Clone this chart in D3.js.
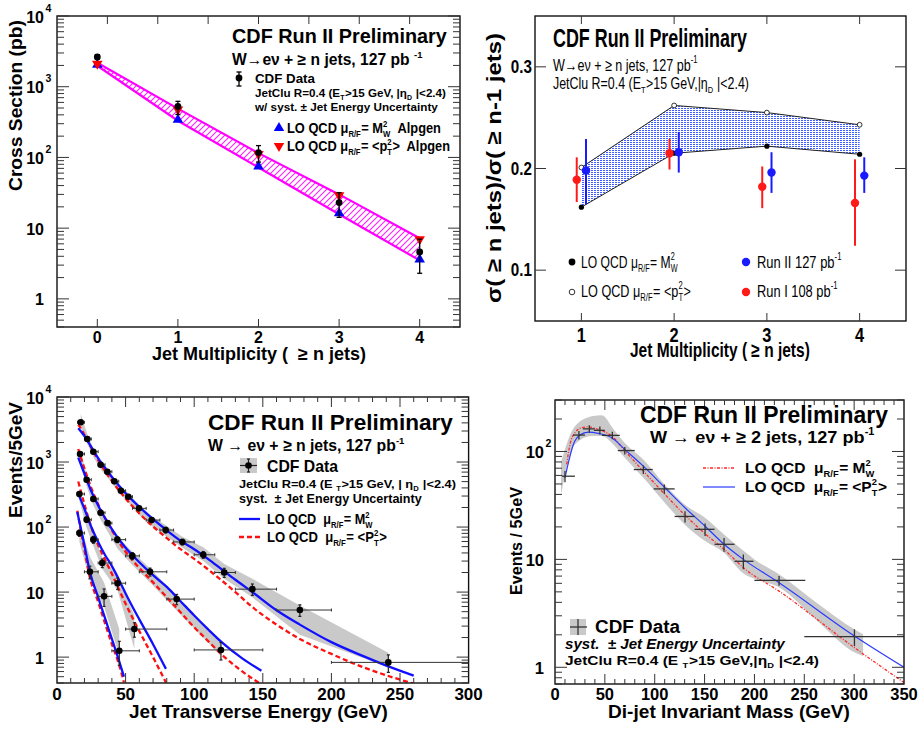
<!DOCTYPE html>
<html><head><meta charset="utf-8">
<script src="https://cdn.jsdelivr.net/npm/d3@7"></script>
<style>
html,body{margin:0;padding:0;background:#fff;}
svg text{white-space:pre;}
</style></head><body>
<svg id="c" width="919" height="729" xmlns="http://www.w3.org/2000/svg"></svg>
<script>
// ===================== DATA =====================
// Panel 1: inclusive cross sections vs jet multiplicity
const p1Mult = [0, 1, 2, 3, 4];
const p1Data = [2630, 525, 117, 23, 4.6];
const p1DataLo = [2450, 404, 86, 14.2, 2.3];
const p1DataHi = [2820, 621, 147, 31.8, 7.0];
const p1LoMW = [1980, 330, 72, 15.7, 3.5];
const p1LoPT = [2180, 490, 115, 30, 7.2];
const p1XTicks = [0, 1, 2, 3, 4];
const p1YTickLabels = ['1', '10', '10^2', '10^3', '10^4'];

// Panel 2: ratios sigma(>=n)/sigma(>=n-1)
const p2Mult = [1, 2, 3, 4];
const p2LoMW = [0.162, 0.215, 0.222, 0.214];
const p2LoPT = [0.201, 0.262, 0.255, 0.243];
const p2Run2 = [0.198, 0.216, 0.196, 0.193];
const p2Run2Lo = [0.165, 0.196, 0.176, 0.176];
const p2Run2Hi = [0.229, 0.236, 0.216, 0.211];
const p2Run1 = [0.189, 0.215, 0.182, 0.166];
const p2Run1Lo = [0.167, 0.199, 0.161, 0.124];
const p2Run1Hi = [0.211, 0.229, 0.202, 0.209];
const p2XTicks = [1, 2, 3, 4];
const p2YTicks = [0.1, 0.2, 0.3];

// Panel 3: jet ET spectra, >=1..>=4 jets
const p3J1X = [17.3, 22.1, 26.5, 31.8, 36.7, 41.8, 46.6, 52, 59.8, 69, 79.2, 91.4, 106.6, 121.9, 142.4, 177, 241.5];
const p3J1Y = [4080, 2260, 1440, 910, 710, 505, 362, 293, 194, 128, 90, 59, 37.5, 20, 11.1, 5.3, 0.83];
const p3J1Err = [0.02, 0.02, 0.03, 0.03, 0.04, 0.04, 0.05, 0.06, 0.06, 0.08, 0.1, 0.1, 0.12, 0.16, 0.2, 0.2, 0.3];
const p3J1XLo = [15, 20, 25, 30, 35, 40, 45, 50, 55, 65, 75, 85, 100, 115, 130, 160, 200];
const p3J1XHi = [20, 25, 30, 35, 40, 45, 50, 55, 65, 75, 85, 100, 115, 130, 160, 200, 300];
const p3J1BandHi = [5500, 2700, 1650, 1040, 810, 570, 415, 330, 220, 148, 107, 71, 49, 27, 16, 6.2, 1.17];
const p3J1BandLo = [3400, 1900, 1200, 770, 590, 415, 310, 240, 155, 104, 73, 48, 30, 16, 8.3, 2.2, 0.69];

const p3J2X = [16.8, 21.6, 26.5, 31.8, 36.9, 44, 54.9, 67.8, 87.2, 119.5];
const p3J2Y = [1330, 535, 270, 166, 115, 64, 36, 20.5, 7.8, 1.29];
const p3J2Err = [0.03, 0.04, 0.06, 0.07, 0.08, 0.1, 0.12, 0.14, 0.18, 0.3];
const p3J2XLo = [15, 20, 25, 30, 35, 40, 50, 60, 80, 100];
const p3J2XHi = [20, 25, 30, 35, 40, 50, 60, 80, 100, 150];
const p3J2BandHi = [1590, 650, 310, 190, 130, 71, 42, 23, 8.9, 1.68];
const p3J2BandLo = [1050, 420, 215, 130, 85, 47, 26, 14, 5.2, 1.05];

const p3J3X = [16.3, 21.6, 26.5, 33, 44.2, 56.4];
const p3J3Y = [322, 130, 64, 28, 13.7, 2.7];
const p3J3Err = [0.06, 0.09, 0.12, 0.15, 0.2, 0.25];
const p3J3XLo = [15, 20, 25, 30, 40, 50];
const p3J3XHi = [20, 25, 30, 40, 50, 80];
const p3J3BandHi = [385, 160, 78, 34, 17.8, 4.3];
const p3J3BandLo = [254, 98, 51, 22.6, 10.5, 1.33];

const p3J4X = [16.3, 24, 34.3, 45.4];
const p3J4Y = [81, 20.5, 8.6, 1.25];
const p3J4Err = [0.11, 0.22, 0.3, 0.4];
const p3J4XLo = [15, 20, 30, 40];
const p3J4XHi = [20, 30, 40, 60];
const p3J4BandHi = [120, 35, 14, 2.7];
const p3J4BandLo = [60, 15, 6, 1.05];

// LO QCD curves (mu = M_W^2 : blue solid, mu = <PT^2> : red dashed)
const p3C1X = [15.5, 20, 25, 30, 35, 40, 50, 60, 70, 80, 90, 100, 110, 120, 130, 142.4, 160, 177, 200, 225, 241.5, 260];
const p3C1MW = [3311, 2512, 1698, 1148, 813, 589, 331, 204, 132, 89, 61.7, 45.7, 32.4, 22.4, 15.5, 10, 5.25, 3.16, 1.7, 1.0, 0.72, 0.52];
const p3C1PT = [3802, 2630, 1660, 1072, 724, 513, 275, 162, 102, 67.6, 45.7, 32.4, 22.4, 15.1, 10, 5.89, 3.16, 1.9, 1.12, 0.676, 0.513, 0.39];
const p3C2X = [15.5, 20, 25, 30, 35, 40, 50, 60, 70, 80, 90, 100, 110, 120, 135, 149];
const p3C2MW = [1175, 661, 355, 214, 138, 93.3, 47.9, 28.8, 18.2, 12.0, 7.24, 4.37, 2.69, 1.70, 0.955, 0.617];
const p3C2PT = [1585, 794, 398, 224, 138, 89.1, 41.7, 23.4, 14.1, 8.32, 4.9, 2.88, 1.78, 1.1, 0.603, 0.38];
const p3C3X = [15.5, 20, 25, 30, 35, 40, 45, 50, 60, 70, 79.4];
const p3C3MW = [324, 191, 100, 58.9, 37.2, 25.1, 15.8, 9.55, 3.8, 1.58, 0.66];
const p3C3PT = [501, 224, 100, 52.5, 31.6, 19.1, 11.2, 6.61, 2.51, 1.0, 0.407];
const p3C4X = [14.8, 20, 24, 30, 35, 40, 45, 48.8];
const p3C4MW = [170, 52.5, 20.4, 8.32, 3.98, 1.91, 0.912, 0.5];
const p3C4PT = [178, 44.7, 16.6, 7.08, 3.31, 1.58, 0.794, 0.407];
const p3XTicks = [0, 50, 100, 150, 200, 250, 300];
const p3YTickLabels = ['1', '10', '10^2', '10^3', '10^4'];

// Panel 4: di-jet invariant mass (>=2 jets)
const p4X = [10, 24, 34.4, 45, 57.5, 70, 88.6, 109.6, 130.4, 150.5, 169.5, 188.9, 224.7, 300.3];
const p4Y = [59, 142, 162, 157, 141, 102, 68, 45, 25, 19, 13.8, 9.6, 6.4, 1.92];
const p4YLo = [52, 129, 149, 144, 130, 94, 62, 40.5, 22, 16.5, 11.8, 8.1, 5.7, 1.57];
const p4YHi = [66, 155, 175, 170, 152, 110, 74, 49.5, 28, 21.5, 15.8, 11.1, 7.0, 2.25];
const p4XLo = [7, 18, 28, 39, 47, 63, 79, 99, 120, 140, 160, 180, 200, 250];
const p4XHi = [20, 30, 40, 50, 65, 80, 98, 120, 140, 160, 180, 199, 251, 350];
const p4BandX = [6, 20, 37, 47, 58.5, 70, 88.6, 110, 130, 150.5, 169.5, 189, 200, 225, 262, 300, 309];
const p4BandHi = [79.4, 171, 212, 217, 162, 120, 84.3, 49.4, 32.3, 24.3, 17.0, 12.0, 10.0, 7.24, 3.98, 2.25, 2.02];
const p4BandLo = [39.8, 116, 139, 139, 116, 87.3, 57, 33.5, 21.1, 14.8, 11.5, 7.4, 6.6, 5.5, 2.75, 1.38, 1.27];
const p4MWX = [11.7, 15, 20, 26.7, 33.4, 43.4, 56.9, 70.2, 88.6, 110.3, 130.4, 150.5, 169.5, 188.9, 224.7, 300.3, 352];
const p4MW = [75.9, 116, 149, 166, 169, 160, 139, 101, 65.8, 40, 25.7, 17.3, 12.4, 8.37, 5.08, 1.52, 0.7];
const p4PTX = [10, 13.4, 18.4, 25, 33.4, 43.4, 56.9, 70.2, 88.6, 110.3, 130.4, 150.5, 169.5, 188.9, 224.7, 300.3, 350];
const p4PT = [57, 78.5, 116, 142, 151, 147, 134, 104, 73.1, 46.1, 30.1, 20.3, 13.8, 10, 6.08, 1.95, 1.0];
const p4XTicks = [0, 50, 100, 150, 200, 250, 300, 350];
const p4YTickLabels = ['1', '10', '10^2'];

// ===================== DRAWING =====================
const svg = d3.select('#c');
const FONT = "'Liberation Sans', Arial, Helvetica, sans-serif";
const defs = svg.append('defs');

function rich(parent, x, y, parts, o) {
  o = Object.assign({size: 14, weight: 'bold', anchor: 'start', fill: '#000', style: 'normal', width: null, rotate: 0, sx: 1}, o || {});
  const g = parent.append('g').attr('transform', `translate(${x},${y})` + (o.rotate ? ` rotate(${o.rotate})` : ''));
  const inner = g.append('g');
  let cx = 0;
  const mk = (txt, dy, fs) => inner.append('text').attr('x', cx).attr('y', dy)
    .attr('xml:space', 'preserve')
    .attr('font-family', FONT).attr('font-size', fs).attr('font-weight', o.weight)
    .attr('font-style', o.style).attr('fill', o.fill).text(txt);
  parts.forEach(p => {
    if (typeof p === 'string') p = {t: p};
    if (p.t !== undefined) { const n = mk(p.t, 0, o.size).node(); cx += n.getComputedTextLength(); return; }
    let w = 0;
    const fs = o.size * 0.6;
    if (p.sub) { const n = mk(p.sub, o.size * 0.25, fs).node(); w = Math.max(w, n.getComputedTextLength()); }
    if (p.sup) { const n = mk(p.sup, -o.size * 0.45, fs).node(); w = Math.max(w, n.getComputedTextLength()); }
    cx += w + o.size * 0.04;
  });
  let sx = o.sx;
  if (o.width) sx = o.width / cx;
  const total = cx * sx;
  const off = o.anchor === 'middle' ? -total / 2 : o.anchor === 'end' ? -total : 0;
  inner.attr('transform', `translate(${off},0) scale(${sx},1)`);
  return g;
}

function clip(id, x0, y0, x1, y1) {
  defs.append('clipPath').attr('id', id).append('rect').attr('x', x0).attr('y', y0).attr('width', x1 - x0).attr('height', y1 - y0);
  return `url(#${id})`;
}
function frame(g, x0, y0, x1, y1) {
  g.append('rect').attr('x', x0).attr('y', y0).attr('width', x1 - x0).attr('height', y1 - y0)
    .attr('fill', 'none').attr('stroke', '#111').attr('stroke-width', 1.4);
}
const isDecade = v => Math.abs(Math.log10(v) - Math.round(Math.log10(v))) < 1e-9;
function logYTicks(g, ys, x0, x1, maj, min) {
  const t = g.append('g').attr('stroke', '#333').attr('stroke-width', 1);
  ys.ticks().filter(v => v >= ys.domain()[0] && v <= ys.domain()[1]).forEach(v => {
    const y = ys(v), L = isDecade(v) ? maj : min;
    t.append('line').attr('x1', x0).attr('x2', x0 + L).attr('y1', y).attr('y2', y);
    t.append('line').attr('x1', x1).attr('x2', x1 - L).attr('y1', y).attr('y2', y);
  });
}
function xTicksAt(g, xs, vals, y0, y1, len, top, bottom) {
  const t = g.append('g').attr('stroke', '#333').attr('stroke-width', 1);
  vals.forEach(v => {
    const x = xs(v);
    if (bottom) t.append('line').attr('x1', x).attr('x2', x).attr('y1', y1).attr('y2', y1 - len);
    if (top) t.append('line').attr('x1', x).attr('x2', x).attr('y1', y0).attr('y2', y0 + len);
  });
}
function logLabels(g, ys, labels, xr, size, supSize, dyMain, dySup) {
  labels.forEach(s => {
    const [base, ex] = s.split('^');
    const v = ex ? Math.pow(+base, +ex) : +base;
    const y = ys(v);
    g.append('text').attr('x', xr).attr('y', y + dyMain).attr('text-anchor', 'end')
      .attr('font-family', FONT).attr('font-weight', 'bold').attr('font-size', size).text(base);
    if (ex) g.append('text').attr('x', xr + 1.5).attr('y', y + dySup)
      .attr('font-family', FONT).attr('font-weight', 'bold').attr('font-size', supSize).text(ex);
  });
}
function vErr(g, x, yA, yB, cap, color, w) {
  g.append('line').attr('x1', x).attr('x2', x).attr('y1', yA).attr('y2', yB).attr('stroke', color).attr('stroke-width', w);
  if (cap) {
    g.append('line').attr('x1', x - cap).attr('x2', x + cap).attr('y1', yA).attr('y2', yA).attr('stroke', color).attr('stroke-width', w);
    g.append('line').attr('x1', x - cap).attr('x2', x + cap).attr('y1', yB).attr('y2', yB).attr('stroke', color).attr('stroke-width', w);
  }
}

// patterns
const pm = defs.append('pattern').attr('id', 'hatchMag').attr('patternUnits', 'userSpaceOnUse').attr('width', 6).attr('height', 6);
pm.append('path').attr('d', 'M0,6 L6,0 M-1,1 L1,-1 M5,7 L7,5').attr('stroke', '#ff22ff').attr('stroke-width', 1.1);
const pb = defs.append('pattern').attr('id', 'hatchBlue').attr('patternUnits', 'userSpaceOnUse').attr('width', 3).attr('height', 2);
pb.append('rect').attr('x', 0).attr('y', 0).attr('width', 2).attr('height', 1).attr('fill', '#3f5cff');

// ---------------- Panel 1 ----------------
(function () {
  const X0 = 57, X1 = 460, Y0 = 16, Y1 = 327;
  const x = d3.scaleLinear([-0.5, 4.5], [X0, X1]);
  const y = d3.scaleLog([0.4, 1e4], [Y1, Y0]);
  const g = svg.append('g');
  const pg = g.append('g').attr('clip-path', clip('c1', X0, Y0, X1, Y1));
  const idx = d3.range(p1Mult.length);
  pg.append('path').datum(idx)
    .attr('d', d3.area().x(i => x(p1Mult[i])).y0(i => y(p1LoMW[i])).y1(i => y(p1LoPT[i])))
    .attr('fill', 'url(#hatchMag)');
  [p1LoMW, p1LoPT].forEach(arr => pg.append('path').datum(idx)
    .attr('d', d3.line().x(i => x(p1Mult[i])).y(i => y(arr[i])))
    .attr('fill', 'none').attr('stroke', '#ff00ff').attr('stroke-width', 2.2));
  idx.forEach(i => {
    pg.append('path').attr('d', d3.symbol(d3.symbolTriangle, 48)())
      .attr('transform', `translate(${x(p1Mult[i])},${y(p1LoMW[i]) - 1})`).attr('fill', '#0000ff');
    pg.append('path').attr('d', d3.symbol(d3.symbolTriangle, 48)())
      .attr('transform', `translate(${x(p1Mult[i])},${y(p1LoPT[i]) + 1}) rotate(180)`).attr('fill', '#ff0000');
  });
  idx.forEach(i => {
    vErr(pg, x(p1Mult[i]), y(p1DataHi[i]), y(p1DataLo[i]), 2.5, '#000', 1.3);
    pg.append('circle').attr('cx', x(p1Mult[i])).attr('cy', y(p1Data[i])).attr('r', 3.4).attr('fill', '#000');
  });
  frame(g, X0, Y0, X1, Y1);
  logYTicks(g, y, X0, X1, 12, 7);
  xTicksAt(g, x, p1XTicks, Y0, Y1, 8, false, true);
  const xt = d3.scaleLinear([0, 8], [X0, X1]);
  xTicksAt(g, xt, d3.range(1, 8), Y0, Y1, 8, true, false);
  logLabels(g, y, p1YTickLabels, 44, 16, 10.5, 6.5, -4.5);
  p1XTicks.forEach(v => g.append('text').attr('x', x(v)).attr('y', 343).attr('text-anchor', 'middle')
    .attr('font-family', FONT).attr('font-weight', 'bold').attr('font-size', 16).text(v));
  rich(g, 259, 360, ['Jet Multiplicity (  ≥ n jets)'], {size: 18, anchor: 'middle', width: 214});
  rich(g, 22, 20, ['Cross Section (pb)'], {size: 19, anchor: 'end', rotate: -90, width: 171});
  // legend / labels
  rich(g, 232, 43, ['CDF Run II Preliminary'], {size: 20, width: 215});
  rich(g, 232, 65, ['W→eν + ≥ n jets, 127 pb ', {sup: '-1'}], {size: 16, width: 191});
  vErr(g, 239, 72, 86, 2.5, '#000', 1.3);
  g.append('circle').attr('cx', 239).attr('cy', 78).attr('r', 3.4).attr('fill', '#000');
  rich(g, 255, 83, ['CDF Data'], {size: 13.5, width: 60});
  rich(g, 255, 97, ['JetClu R=0.4 (E', {sub: 'T'}, '>15 GeV, |η', {sub: 'D'}, ' |<2.4)'], {size: 10.5, width: 191});
  rich(g, 255, 111, ['w/ syst. ± Jet Energy Uncertainty'], {size: 11, width: 183});
  g.append('path').attr('d', d3.symbol(d3.symbolTriangle, 48)()).attr('transform', 'translate(279,128)').attr('fill', '#0000ff');
  g.append('path').attr('d', d3.symbol(d3.symbolTriangle, 48)()).attr('transform', 'translate(279,146) rotate(180)').attr('fill', '#ff0000');
  rich(g, 287, 133, ['LO QCD ', 'μ', {sub: 'R/F'}, '= M', {sub: 'W', sup: '2'}, '  Alpgen'], {size: 14, width: 154});
  rich(g, 287, 151, ['LO QCD ', 'μ', {sub: 'R/F'}, '= <p', {sub: 'T', sup: '2'}, '>  Alpgen'], {size: 14, width: 163});
})();

// ---------------- Panel 2 ----------------
(function () {
  const X0 = 535, X1 = 906, Y0 = 16, Y1 = 321;
  const x = d3.scaleLinear([0.5, 4.5], [X0, X1]);
  const y = d3.scaleLinear([0.05, 0.35], [Y1, Y0]);
  const g = svg.append('g');
  const pg = g.append('g').attr('clip-path', clip('c2', X0, Y0, X1, Y1));
  const idx = d3.range(p2Mult.length);
  pg.append('path').datum(idx)
    .attr('d', d3.area().x(i => x(p2Mult[i])).y0(i => y(p2LoMW[i])).y1(i => y(p2LoPT[i])))
    .attr('fill', 'url(#hatchBlue)');
  [p2LoMW, p2LoPT].forEach(arr => pg.append('path').datum(idx)
    .attr('d', d3.line().x(i => x(p2Mult[i])).y(i => y(arr[i])))
    .attr('fill', 'none').attr('stroke', '#222').attr('stroke-width', 1));
  idx.forEach(i => {
    pg.append('circle').attr('cx', x(p2Mult[i])).attr('cy', y(p2LoMW[i])).attr('r', 2.6).attr('fill', '#000');
    pg.append('circle').attr('cx', x(p2Mult[i])).attr('cy', y(p2LoPT[i])).attr('r', 2.4).attr('fill', '#fff').attr('stroke', '#000').attr('stroke-width', 0.8);
  });
  idx.forEach(i => {
    const xr = x(p2Mult[i] - 0.05), xb = x(p2Mult[i] + 0.05);
    vErr(pg, xr, y(p2Run1Hi[i]), y(p2Run1Lo[i]), 0, '#ff1a1a', 2);
    pg.append('circle').attr('cx', xr).attr('cy', y(p2Run1[i])).attr('r', 4.2).attr('fill', '#ff1a1a');
    vErr(pg, xb, y(p2Run2Hi[i]), y(p2Run2Lo[i]), 0, '#1a1aff', 2);
    pg.append('circle').attr('cx', xb).attr('cy', y(p2Run2[i])).attr('r', 4.2).attr('fill', '#1a1aff');
  });
  frame(g, X0, Y0, X1, Y1);
  const t = g.append('g').attr('stroke', '#333').attr('stroke-width', 1);
  p2YTicks.forEach(v => {
    t.append('line').attr('x1', X0).attr('x2', X0 + 11).attr('y1', y(v)).attr('y2', y(v));
    t.append('line').attr('x1', X1).attr('x2', X1 - 11).attr('y1', y(v)).attr('y2', y(v));
  });
  xTicksAt(g, x, p2XTicks, Y0, Y1, 8, true, true);
  p2YTicks.forEach(v => rich(g, 532, y(v) + 6, [v.toFixed(1)], {size: 19, anchor: 'end', sx: 0.8}));
  p2XTicks.forEach(v => rich(g, x(v), 342, [String(v)], {size: 20, anchor: 'middle', sx: 0.82}));
  rich(g, 720, 357, ['Jet Multiplicity ( ≥ n jets)'], {size: 20, anchor: 'middle', width: 180});
  rich(g, 501, 168, ['σ( ≥ n jets)/σ( ≥ n-1 jets)'], {size: 21, anchor: 'middle', rotate: -90, width: 270});
  rich(g, 553, 47, ['CDF Run II Preliminary'], {size: 25, width: 194});
  rich(g, 553, 71, ['W→eν + ≥ n jets, 127 pb', {sup: '-1'}], {size: 17, weight: 'normal', width: 145});
  rich(g, 553, 89, ['JetClu R=0.4 (E', {sub: 'T'}, '>15 GeV,|η', {sub: 'D'}, ' |<2.4)'], {size: 16.5, weight: 'normal', width: 196});
  g.append('circle').attr('cx', 572).attr('cy', 262).attr('r', 3.4).attr('fill', '#000');
  g.append('circle').attr('cx', 572).attr('cy', 292).attr('r', 2.8).attr('fill', '#fff').attr('stroke', '#000').attr('stroke-width', 0.8);
  g.append('circle').attr('cx', 746).attr('cy', 262).attr('r', 4.2).attr('fill', '#1a1aff');
  g.append('circle').attr('cx', 746).attr('cy', 292).attr('r', 4.2).attr('fill', '#ff1a1a');
  rich(g, 581, 268, ['LO QCD ', 'μ', {sub: 'R/F'}, '= M', {sub: 'W', sup: '2'}], {size: 17, weight: 'normal', width: 97});
  rich(g, 581, 297, ['LO QCD ', 'μ', {sub: 'R/F'}, '= <p', {sub: 'T', sup: '2'}, '>'], {size: 17, weight: 'normal', width: 110});
  rich(g, 757, 268, ['Run II 127 pb', {sup: '-1'}], {size: 17, weight: 'normal', width: 85});
  rich(g, 757, 297, ['Run I 108 pb', {sup: '-1'}], {size: 17, weight: 'normal', width: 81});
})();

// ---------------- Panel 3 ----------------
(function () {
  const X0 = 57, X1 = 468.6, Y0 = 397, Y1 = 683;
  const x = d3.scaleLinear([0, 300], [X0, X1]);
  const y = d3.scaleLog([0.4, 1e4], [Y1, Y0]);
  const g = svg.append('g');
  const pg = g.append('g').attr('clip-path', clip('c3', X0, Y0, X1, Y1));
  const series = [
    {x: p3J1X, y: p3J1Y, e: p3J1Err, lo: p3J1XLo, hi: p3J1XHi, bl: p3J1BandLo, bh: p3J1BandHi, cx: p3C1X, mw: p3C1MW, pt: p3C1PT},
    {x: p3J2X, y: p3J2Y, e: p3J2Err, lo: p3J2XLo, hi: p3J2XHi, bl: p3J2BandLo, bh: p3J2BandHi, cx: p3C2X, mw: p3C2MW, pt: p3C2PT},
    {x: p3J3X, y: p3J3Y, e: p3J3Err, lo: p3J3XLo, hi: p3J3XHi, bl: p3J3BandLo, bh: p3J3BandHi, cx: p3C3X, mw: p3C3MW, pt: p3C3PT},
    {x: p3J4X, y: p3J4Y, e: p3J4Err, lo: p3J4XLo, hi: p3J4XHi, bl: p3J4BandLo, bh: p3J4BandHi, cx: p3C4X, mw: p3C4MW, pt: p3C4PT}
  ];
  series.forEach(s => {
    const idx = d3.range(s.x.length);
    pg.append('path').datum(idx)
      .attr('d', d3.area().x(i => x(s.x[i])).y0(i => y(s.bl[i])).y1(i => y(s.bh[i])))
      .attr('fill', '#c9c9c9');
  });
  series.forEach(s => {
    const idx = d3.range(s.cx.length);
    pg.append('path').datum(idx).attr('d', d3.line().curve(d3.curveMonotoneX).x(i => x(s.cx[i])).y(i => y(s.pt[i])))
      .attr('fill', 'none').attr('stroke', '#ff1010').attr('stroke-width', 2.3).attr('stroke-dasharray', '5,3');
    pg.append('path').datum(idx).attr('d', d3.line().curve(d3.curveMonotoneX).x(i => x(s.cx[i])).y(i => y(s.mw[i])))
      .attr('fill', 'none').attr('stroke', '#1010ff').attr('stroke-width', 2.3);
  });
  series.forEach(s => {
    s.x.forEach((xv, i) => {
      const yy = y(s.y[i]);
      pg.append('line').attr('x1', x(s.lo[i])).attr('x2', x(s.hi[i])).attr('y1', yy).attr('y2', yy).attr('stroke', '#333').attr('stroke-width', 1);
      [s.lo[i], s.hi[i]].forEach(b => pg.append('line').attr('x1', x(b)).attr('x2', x(b)).attr('y1', yy - 1.5).attr('y2', yy + 1.5).attr('stroke', '#333').attr('stroke-width', 1));
      vErr(pg, x(xv), y(s.y[i] * (1 + s.e[i])), y(s.y[i] * (1 - s.e[i])), 1.5, '#222', 1.2);
      pg.append('circle').attr('cx', x(xv)).attr('cy', yy).attr('r', 3.3).attr('fill', '#000');
    });
  });
  frame(g, X0, Y0, X1, Y1);
  logYTicks(g, y, X0, X1, 12, 7);
  xTicksAt(g, x, d3.range(10, 300, 10).filter(v => v % 50), Y0, Y1, 5, true, true);
  xTicksAt(g, x, p3XTicks.slice(1, -1), Y0, Y1, 10, true, true);
  logLabels(g, y, p3YTickLabels, 44, 16, 10.5, 6.5, -4.5);
  p3XTicks.forEach(v => g.append('text').attr('x', x(v)).attr('y', 700).attr('text-anchor', 'middle')
    .attr('font-family', FONT).attr('font-weight', 'bold').attr('font-size', 17).text(v));
  rich(g, 258.5, 718, ['Jet Transverse Energy (GeV)'], {size: 19, anchor: 'middle', width: 259});
  rich(g, 22, 402, ['Events/5GeV'], {size: 19, anchor: 'end', rotate: -90, width: 116});
  rich(g, 208, 430, ['CDF Run II Preliminary'], {size: 22.5, width: 245});
  rich(g, 208, 451, ['W → eν + ≥ n jets, 127 pb', {sup: '-1'}], {size: 16.5, width: 197});
  g.append('rect').attr('x', 240).attr('y', 458).attr('width', 17).attr('height', 15).attr('fill', '#c9c9c9');
  g.append('line').attr('x1', 240).attr('x2', 257).attr('y1', 465.5).attr('y2', 465.5).attr('stroke', '#222').attr('stroke-width', 1.2);
  vErr(g, 248.5, 459, 472, 1.5, '#222', 1.2);
  g.append('circle').attr('cx', 248.5).attr('cy', 465.5).attr('r', 3.3).attr('fill', '#000');
  rich(g, 267, 472, ['CDF Data'], {size: 16, width: 71});
  rich(g, 239, 488, ['JetClu R=0.4 (E ', {sub: 'T'}, '>15 GeV, | η', {sub: 'D'}, ' |<2.4)'], {size: 11.5, width: 217});
  rich(g, 239, 503, ['syst.  ± Jet Energy Uncertainty'], {size: 12.5, width: 183});
  g.append('line').attr('x1', 239).attr('x2', 260).attr('y1', 519).attr('y2', 519).attr('stroke', '#1010ff').attr('stroke-width', 2.3);
  g.append('line').attr('x1', 239).attr('x2', 260).attr('y1', 537).attr('y2', 537).attr('stroke', '#ff1010').attr('stroke-width', 2.3).attr('stroke-dasharray', '5,3');
  rich(g, 267, 524, ['LO QCD  μ', {sub: 'R/F'}, '= M', {sub: 'W', sup: '2'}], {size: 14, width: 106});
  rich(g, 267, 542, ['LO QCD  μ', {sub: 'R/F'}, '= <P', {sub: 'T', sup: '2'}, '>'], {size: 14, width: 120});
})();

// ---------------- Panel 4 ----------------
(function () {
  const X0 = 555, X1 = 904, Y0 = 400, Y1 = 684;
  const x = d3.scaleLinear([0, 350], [X0, X1]);
  const y = d3.scaleLog([0.7, 300], [Y1, Y0]);
  const g = svg.append('g');
  const pg = g.append('g').attr('clip-path', clip('c4', X0, Y0, X1, Y1));
  const bidx = d3.range(p4BandX.length);
  pg.append('path').datum(bidx)
    .attr('d', d3.area().curve(d3.curveMonotoneX).x(i => x(p4BandX[i])).y0(i => y(p4BandLo[i])).y1(i => y(p4BandHi[i])))
    .attr('fill', '#c9c9c9');
  pg.append('path').datum(d3.range(p4MWX.length))
    .attr('d', d3.line().curve(d3.curveMonotoneX).x(i => x(p4MWX[i])).y(i => y(p4MW[i])))
    .attr('fill', 'none').attr('stroke', '#ff2a2a').attr('stroke-width', 1.3).attr('stroke-dasharray', '3,1.5,1,1.5');
  pg.append('path').datum(d3.range(p4PTX.length))
    .attr('d', d3.line().curve(d3.curveMonotoneX).x(i => x(p4PTX[i])).y(i => y(p4PT[i])))
    .attr('fill', 'none').attr('stroke', '#2a3cff').attr('stroke-width', 1.2);
  p4X.forEach((xv, i) => {
    pg.append('line').attr('x1', x(p4XLo[i])).attr('x2', x(p4XHi[i])).attr('y1', y(p4Y[i])).attr('y2', y(p4Y[i])).attr('stroke', '#333').attr('stroke-width', 1.3);
    pg.append('line').attr('x1', x(xv)).attr('x2', x(xv)).attr('y1', y(p4YHi[i])).attr('y2', y(p4YLo[i])).attr('stroke', '#333').attr('stroke-width', 1.3);
  });
  frame(g, X0, Y0, X1, Y1);
  logYTicks(g, y, X0, X1, 12, 7);
  xTicksAt(g, x, d3.range(10, 350, 10).filter(v => v % 50), Y0, Y1, 5, true, true);
  xTicksAt(g, x, p4XTicks.slice(1, -1), Y0, Y1, 10, true, true);
  logLabels(g, y, p4YTickLabels, 544, 16.5, 10.5, 6.5, -4.5);
  p4XTicks.forEach(v => g.append('text').attr('x', x(v)).attr('y', 700).attr('text-anchor', 'middle')
    .attr('font-family', FONT).attr('font-weight', 'bold').attr('font-size', 16.5).text(v));
  rich(g, 729, 718, ['Di-jet Invariant Mass (GeV)'], {size: 18.5, anchor: 'middle', width: 242});
  rich(g, 522, 541, ['Events / 5GeV'], {size: 17, anchor: 'middle', rotate: -90, width: 108});
  rich(g, 640, 423, ['CDF Run II Preliminary'], {size: 23, width: 248});
  rich(g, 650, 443, ['W → eν + ≥ 2 jets, 127 pb', {sup: '-1'}], {size: 17, width: 225});
  g.append('line').attr('x1', 703).attr('x2', 735).attr('y1', 468).attr('y2', 468).attr('stroke', '#ff2a2a').attr('stroke-width', 1.3).attr('stroke-dasharray', '3,1.5,1,1.5');
  g.append('line').attr('x1', 703).attr('x2', 735).attr('y1', 487).attr('y2', 487).attr('stroke', '#2a3cff').attr('stroke-width', 1.2);
  rich(g, 745, 473, ['LO QCD  μ', {sub: 'R/F'}, '= M', {sub: 'W', sup: '2'}], {size: 15.5, width: 130});
  rich(g, 745, 492, ['LO QCD  μ', {sub: 'R/F'}, '= <P', {sub: 'T', sup: '2'}, '>'], {size: 15.5, width: 142});
  g.append('rect').attr('x', 570).attr('y', 619).attr('width', 16).attr('height', 16).attr('fill', '#c9c9c9');
  g.append('line').attr('x1', 570).attr('x2', 587).attr('y1', 627).attr('y2', 627).attr('stroke', '#333').attr('stroke-width', 1.3);
  g.append('line').attr('x1', 578).attr('x2', 578).attr('y1', 619).attr('y2', 635).attr('stroke', '#333').attr('stroke-width', 1.3);
  rich(g, 595, 633, ['CDF Data'], {size: 19, width: 85});
  rich(g, 565, 649, ['syst.  ± Jet Energy Uncertainty'], {size: 14, style: 'italic', width: 220});
  rich(g, 565, 665, ['JetClu R=0.4 (E ', {sub: 'T'}, '>15 GeV,|η', {sub: 'D'}, ' |<2.4)'], {size: 13.5, width: 254});
})();
</script>
</body></html>
